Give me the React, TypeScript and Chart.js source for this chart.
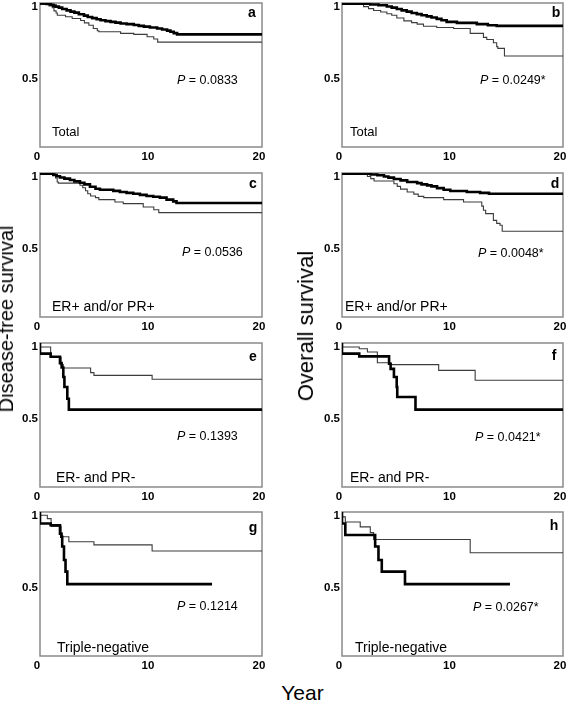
import React, { useEffect, useRef } from 'react';
import { Chart, registerables } from 'chart.js';

Chart.register(...registerables);

// ---- axis ticks ----
const xTicks = [0, 10, 20];
const yTicks = [0.5, 1];

// ---- panel a : Disease-free survival, Total ----
const aThickT = [0, 0.6, 0.96, 1.2, 1.4, 1.7, 2.0, 2.4, 2.75, 3.1, 3.5, 3.96, 4.3, 4.7, 5.1, 5.46, 5.9, 6.36, 6.8, 7.26, 7.8, 8.45, 8.9, 9.36, 9.9, 10.55, 11.0, 11.45, 11.75, 12.05, 12.35, 12.65, 20];
const aThickS = [1, 0.997, 0.993, 0.988, 0.982, 0.975, 0.968, 0.958, 0.949, 0.94, 0.933, 0.922, 0.912, 0.903, 0.895, 0.887, 0.88, 0.874, 0.869, 0.864, 0.858, 0.853, 0.847, 0.841, 0.836, 0.83, 0.823, 0.816, 0.808, 0.8, 0.791, 0.782, 0.782];
const aThinT = [0, 0.8, 1.1, 1.26, 1.45, 1.56, 2.3, 2.9, 3.66, 4.0, 4.4, 4.8, 5.16, 5.3, 7.26, 8.45, 9.65, 10.25, 10.6, 11.0, 20];
const aThinS = [1, 0.99, 0.98, 0.968, 0.945, 0.931, 0.915, 0.905, 0.892, 0.878, 0.862, 0.845, 0.823, 0.807, 0.8, 0.789, 0.782, 0.766, 0.75, 0.728, 0.728];

// ---- panel b : Overall survival, Total ----
const bThickT = [0, 2.56, 3.3, 4.06, 4.5, 4.96, 5.4, 5.86, 6.3, 6.77, 7.2, 7.67, 8.1, 8.57, 9.0, 9.47, 10.4, 12.2, 13.2, 14.0, 14.5, 20];
const bThickS = [1, 0.995, 0.99, 0.984, 0.976, 0.968, 0.958, 0.949, 0.94, 0.931, 0.923, 0.915, 0.907, 0.899, 0.89, 0.88, 0.869, 0.862, 0.853, 0.846, 0.841, 0.841];
const bThinT = [0, 1.95, 2.4, 2.86, 3.5, 4.06, 4.5, 4.96, 5.6, 6.3, 6.8, 7.37, 8.57, 10.1, 11.6, 12.8, 13.1, 13.7, 14.0, 14.1, 14.7, 15.5, 20];
const bThinS = [1, 0.99, 0.975, 0.961, 0.948, 0.938, 0.925, 0.915, 0.896, 0.876, 0.864, 0.853, 0.839, 0.83, 0.823, 0.789, 0.761, 0.747, 0.724, 0.697, 0.685, 0.632, 0.632];

// ---- panel c : Disease-free survival, ER+ and/or PR+ ----
const cThickT = [0, 1.2, 1.5, 1.8, 2.2, 2.7, 3.1, 3.6, 4.0, 4.5, 5.0, 5.4, 6.6, 7.2, 7.8, 8.4, 9.0, 9.6, 10.2, 10.8, 11.4, 12.0, 12.3, 12.7, 20];
const cThickS = [1, 0.995, 0.986, 0.977, 0.969, 0.961, 0.951, 0.942, 0.932, 0.921, 0.905, 0.891, 0.884, 0.876, 0.868, 0.862, 0.856, 0.848, 0.84, 0.835, 0.829, 0.815, 0.803, 0.792, 0.792];
const cThinT = [0, 1.4, 1.55, 1.65, 3.6, 3.85, 4.1, 4.3, 4.56, 5.0, 5.3, 6.75, 7.5, 9.3, 10.25, 10.7, 11.15, 20];
const cThinS = [1, 0.995, 0.965, 0.938, 0.93, 0.915, 0.898, 0.877, 0.856, 0.84, 0.829, 0.815, 0.799, 0.787, 0.764, 0.745, 0.725, 0.725];

// ---- panel d : Overall survival, ER+ and/or PR+ ----
const dThickT = [0, 2.6, 3.2, 3.8, 4.2, 4.7, 5.3, 5.9, 6.8, 7.2, 7.7, 8.1, 8.6, 9.2, 9.8, 11.3, 12.5, 13.3, 14.0, 20];
const dThickS = [1, 0.995, 0.99, 0.984, 0.976, 0.968, 0.958, 0.949, 0.938, 0.93, 0.921, 0.914, 0.907, 0.895, 0.884, 0.875, 0.868, 0.862, 0.856, 0.856];
const dThinT = [0, 2.3, 2.6, 2.9, 4.7, 5.0, 5.3, 5.9, 6.5, 6.9, 7.4, 9.2, 11.0, 12.65, 12.8, 13.0, 13.7, 14.0, 14.3, 14.5, 14.6, 20];
const dThinS = [1, 0.991, 0.976, 0.961, 0.944, 0.925, 0.907, 0.888, 0.868, 0.853, 0.838, 0.829, 0.815, 0.799, 0.77, 0.741, 0.718, 0.671, 0.65, 0.637, 0.595, 0.595];

// ---- panel e : Disease-free survival, ER- and PR- ----
const eThickT = [0, 0.96, 1.8, 1.95, 2.1, 2.2, 2.46, 2.6, 5.0, 20];
const eThickS = [1, 0.926, 0.905, 0.86, 0.83, 0.764, 0.694, 0.613, 0.537, 0.537];
const eThinT = [0, 0.96, 1.9, 2.1, 4.56, 4.86, 10.1, 11.0, 20];
const eThinS = [1, 0.972, 0.9, 0.85, 0.826, 0.794, 0.775, 0.748, 0.748];

// ---- panel f : Overall survival, ER- and PR- ----
const fThickT = [0, 1.56, 4.26, 4.4, 4.7, 4.95, 5.0, 6.65, 7.25, 20];
const fThickS = [1, 0.926, 0.907, 0.856, 0.82, 0.764, 0.694, 0.625, 0.537, 0.537];
const fThinT = [0, 1.56, 2.3, 3.2, 4.4, 8.75, 12.05, 15.35, 20];
const fThinS = [1, 0.972, 0.96, 0.937, 0.863, 0.85, 0.81, 0.741, 0.741];

// ---- panel g : Disease-free survival, Triple-negative ----
const gThickT = [0, 0.96, 1.8, 1.92, 2.0, 2.16, 2.3, 2.46, 5.0, 15.5];
const gThickS = [1, 0.92, 0.908, 0.85, 0.828, 0.76, 0.667, 0.586, 0.499, 0.499];
const gThinT = [0, 0.66, 1.0, 1.9, 2.0, 2.6, 4.86, 10.1, 11.0, 20];
const gThinS = [1, 0.977, 0.954, 0.9, 0.85, 0.828, 0.793, 0.772, 0.729, 0.729];

// ---- panel h : Overall survival, Triple-negative ----
const hThickT = [0, 0.3, 3.0, 3.3, 3.6, 5.7, 6.3, 15.2];
const hThickS = [1, 0.92, 0.84, 0.76, 0.667, 0.586, 0.499, 0.499];
const hThinT = [0, 0.3, 1.65, 2.56, 2.86, 11.6, 15.2, 20];
const hThinS = [1, 0.966, 0.931, 0.897, 0.857, 0.809, 0.717, 0.717];

// ---- panel texts ----
const panelLetters = ['a', 'b', 'c', 'd', 'e', 'f', 'g', 'h'];
const groupLabels = ['Total', 'Total', 'ER+ and/or PR+', 'ER+ and/or PR+', 'ER- and PR-', 'ER- and PR-', 'Triple-negative', 'Triple-negative'];
const pValues = ['0.0833', '0.0249*', '0.0536', '0.0048*', '0.1393', '0.0421*', '0.1214', '0.0267*'];

// ---- layout ----
const COL_LEFT = [40, 342];
const COL_RIGHT = [262, 563];
const ROW_TOP = [3, 173, 343, 512];
const PLOT_H = 144;
const YW = 40;
const XH = 22;
const PAD_TOP = 10;
const PAD_RIGHT = 12;
const FONT = "'Liberation Sans', Arial, sans-serif";

// per-panel text placement (page coords)
const pPos = [[177, 80], [480, 80], [182, 252], [478, 253], [177, 436], [475, 437], [177, 606], [473, 607]];
const gPos = [[52, 132], [350, 132], [52, 306], [345, 306], [56, 477], [350, 477], [57, 647], [355, 647]];
const lPos = [[252, 12], [556, 12], [253, 183], [555, 183], [253, 356], [554, 355], [253, 527], [554, 525]];

const series = [
  [aThickT, aThickS, aThinT, aThinS],
  [bThickT, bThickS, bThinT, bThinS],
  [cThickT, cThickS, cThinT, cThinS],
  [dThickT, dThickS, dThinT, dThinS],
  [eThickT, eThickS, eThinT, eThinS],
  [fThickT, fThickS, fThinT, fThinS],
  [gThickT, gThickS, gThinT, gThinS],
  [hThickT, hThickS, hThinT, hThinS],
];

const toPts = (t: number[], s: number[]) => t.map((v, i) => ({ x: v, y: s[i] }));

const framePlugin = {
  id: 'frame',
  beforeDatasetsDraw(chart: any) {
    const { ctx, chartArea } = chart;
    ctx.save();
    ctx.strokeStyle = '#8a8a8a';
    ctx.lineWidth = 1.5;
    ctx.strokeRect(chartArea.left, chartArea.top, chartArea.right - chartArea.left, chartArea.bottom - chartArea.top);
    ctx.restore();
  },
};

function KMPanel({ idx }: { idx: number }) {
  const ref = useRef<HTMLCanvasElement>(null);
  const col = idx % 2;
  const row = Math.floor(idx / 2);
  const w = YW + (COL_RIGHT[col] - COL_LEFT[col]) + PAD_RIGHT;
  const h = PAD_TOP + PLOT_H + XH;
  const left = COL_LEFT[col] - YW;
  const top = ROW_TOP[row] - PAD_TOP;

  useEffect(() => {
    const [tkT, tkS, tnT, tnS] = series[idx];
    const chart = new Chart(ref.current as HTMLCanvasElement, {
      type: 'line',
      data: {
        datasets: [
          {
            data: toPts(tkT, tkS),
            borderColor: '#000000',
            borderWidth: 2.6,
            stepped: 'after',
            pointRadius: 0,
            fill: false,
          },
          {
            data: toPts(tnT, tnS),
            borderColor: '#3c3c3c',
            borderWidth: 1.1,
            stepped: 'after',
            pointRadius: 0,
            fill: false,
          },
        ],
      },
      options: {
        animation: false,
        responsive: false,
        devicePixelRatio: 1,
        events: [],
        layout: { padding: { left: 0, top: PAD_TOP, right: PAD_RIGHT, bottom: 0 } },
        plugins: { legend: { display: false }, tooltip: { enabled: false }, title: { display: false } },
        scales: {
          x: {
            type: 'linear',
            min: 0,
            max: 20,
            grid: { display: false, drawTicks: false },
            border: { display: false },
            afterBuildTicks: (axis: any) => {
              axis.ticks = xTicks.map((v) => ({ value: v }));
            },
            afterFit: (axis: any) => {
              axis.height = XH;
              axis.paddingLeft = 0;
              axis.paddingRight = 0;
              axis.paddingTop = 0;
              axis.paddingBottom = 0;
            },
            ticks: {
              autoSkip: false,
              maxRotation: 0,
              padding: 3,
              labelOffset: -3,
              color: '#000',
              font: { family: FONT, size: 11.5, weight: 'bold' },
              callback: (v: any) => String(v),
            },
          },
          y: {
            type: 'linear',
            min: 0,
            max: 1,
            grid: { display: false, drawTicks: false },
            border: { display: false },
            afterBuildTicks: (axis: any) => {
              axis.ticks = yTicks.map((v) => ({ value: v }));
            },
            afterFit: (axis: any) => {
              axis.width = YW;
              axis.paddingLeft = 0;
              axis.paddingRight = 0;
              axis.paddingTop = 0;
              axis.paddingBottom = 0;
            },
            ticks: {
              autoSkip: false,
              padding: 2,
              labelOffset: 4,
              color: '#000',
              font: { family: FONT, size: 11.5, weight: 'bold' },
              callback: (v: any) => String(v),
            },
          },
        },
      },
      plugins: [framePlugin],
    } as any);
    return () => chart.destroy();
  }, [idx]);

  return (
    <canvas
      ref={ref}
      width={w}
      height={h}
      style={{ position: 'absolute', left, top, width: w, height: h }}
    />
  );
}

const centerStyle = (x: number, y: number, extra: React.CSSProperties): React.CSSProperties => ({
  position: 'absolute',
  left: x,
  top: y,
  whiteSpace: 'nowrap',
  fontFamily: FONT,
  color: '#000',
  ...extra,
});

export default function App() {
  return (
    <div
      style={{
        position: 'absolute',
        left: 0,
        top: 0,
        width: 567,
        height: 701,
        overflow: 'hidden',
        background: '#fff',
      }}
    >
      {panelLetters.map((_, i) => (
        <KMPanel key={'c' + i} idx={i} />
      ))}
      {panelLetters.map((l, i) => (
        <div
          key={'l' + i}
          style={centerStyle(lPos[i][0], lPos[i][1], {
            fontSize: 14,
            fontWeight: 'bold',
            lineHeight: '14px',
            transform: 'translate(-50%, -50%)',
          })}
        >
          {l}
        </div>
      ))}
      {pValues.map((p, i) => (
        <div
          key={'p' + i}
          style={centerStyle(pPos[i][0], pPos[i][1], {
            fontSize: 12.5,
            lineHeight: '14px',
            transform: 'translateY(-50%)',
          })}
        >
          <i>P</i> = {p}
        </div>
      ))}
      {groupLabels.map((g, i) => (
        <div
          key={'g' + i}
          style={centerStyle(gPos[i][0], gPos[i][1], {
            fontSize: i < 2 ? 13 : 14,
            lineHeight: '16px',
            transform: 'translateY(-50%)',
          })}
        >
          {g}
        </div>
      ))}
      <div
        style={centerStyle(5.5, 319, {
          fontSize: 20,
          lineHeight: '20px',
          transform: 'translate(-50%, -50%) rotate(-90deg)',
        })}
      >
        Disease-free survival
      </div>
      <div
        style={centerStyle(305.5, 326, {
          fontSize: 22,
          lineHeight: '22px',
          transform: 'translate(-50%, -50%) rotate(-90deg)',
        })}
      >
        Overall survival
      </div>
      <div
        style={centerStyle(302.5, 692, {
          fontSize: 21,
          lineHeight: '21px',
          transform: 'translate(-50%, -50%)',
        })}
      >
        Year
      </div>
    </div>
  );
}
